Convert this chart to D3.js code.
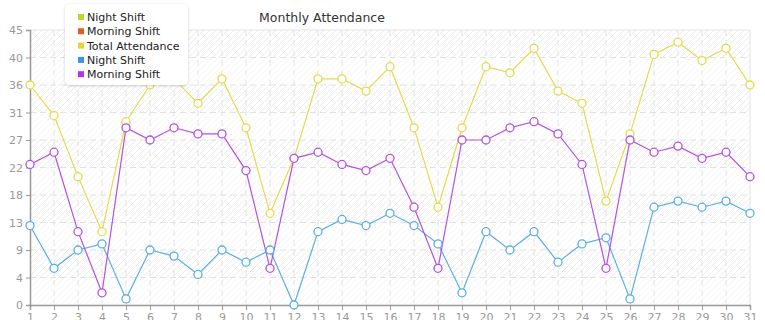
<!doctype html>
<html>
<head>
  <meta charset="utf-8">
  <title>Monthly Attendance</title>
  <script src="https://d3js.org/d3.v7.min.js"></script>
  <style>
    body { margin:0; background:#fff; font-family:"DejaVu Sans", sans-serif; }
    svg { display:block; }
    .tick text { fill:#999; font-size:11px; font-family:"DejaVu Sans", sans-serif; }
    .legend text { font-size:11px; fill:#222; }
  </style>
</head>
<body>
  <svg id="chart" width="765" height="320"></svg>
  <script>
    const days        = d3.range(1, 32);
    const nightShift  = [13,6,9,10,1,9,8,5,9,7,9,0,12,14,13,15,13,10,2,12,9,12,7,10,11,1,16,17,16,17,15];
    const morningShift= [23,25,12,2,29,27,29,28,28,22,6,24,25,23,22,24,16,6,27,27,29,30,28,23,6,27,25,26,24,25,21];
    const totalAtt    = [36,31,21,12,30,36,37,33,37,29,15,24,37,37,35,39,29,16,29,39,38,42,35,33,17,28,41,43,40,42,36];
    const yTicks      = [0,4.5,9,13.5,18,22.5,27,31.5,36,40.5,45];

    const legendItems = [
      { name:"Night Shift",      color:"#b6da2c" },
      { name:"Morning Shift",    color:"#df5c28" },
      { name:"Total Attendance", color:"#e2d43a" },
      { name:"Night Shift",      color:"#3997e6" },
      { name:"Morning Shift",    color:"#b433e4" }
    ];
    const series = [
      { values: totalAtt,     color:"#e6da4e" },
      { values: nightShift,   color:"#5aaee6" },
      { values: morningShift, color:"#b650e4" }
    ];

    const svg = d3.select("#chart");
    const pLeft = 30, pRight = 750, pTop = 30, pBottom = 305;

    const x = d3.scaleLinear().domain([1, 31]).range([pLeft, pRight]);
    const y = d3.scaleLinear().domain([0, 45]).range([pBottom, pTop]);

    // hatch pattern for the plot background
    const defs = svg.append("defs");
    const pat = defs.append("pattern")
      .attr("id","hatch").attr("patternUnits","userSpaceOnUse")
      .attr("width",6).attr("height",6);
    pat.append("rect").attr("width",6).attr("height",6).attr("fill","#fff");
    pat.append("path").attr("d","M0,6 L6,0 M-1,1 L1,-1 M5,7 L7,5")
      .attr("stroke","#ececec").attr("stroke-width",1);

    const shadow = defs.append("filter").attr("id","shadow")
      .attr("x","-20%").attr("y","-20%").attr("width","140%").attr("height","140%");
    shadow.append("feDropShadow").attr("dx",0).attr("dy",1).attr("stdDeviation",1.5)
      .attr("flood-color","#000").attr("flood-opacity",0.18);

    svg.append("rect")
      .attr("x",pLeft).attr("y",pTop)
      .attr("width",pRight-pLeft).attr("height",pBottom-pTop)
      .attr("fill","url(#hatch)");

    // alternating bands
    for (let i = 0; i < yTicks.length - 1; i += 2) {
      svg.append("rect")
        .attr("x",pLeft).attr("width",pRight-pLeft)
        .attr("y",y(yTicks[i+1])).attr("height",y(yTicks[i]) - y(yTicks[i+1]))
        .attr("fill","#fff").attr("opacity",0.55);
    }

    // plot border top / right
    svg.append("path")
      .attr("d",`M${pLeft},${pTop}H${pRight}V${pBottom}`)
      .attr("fill","none").attr("stroke","#e4e4e4");

    // grid
    svg.append("g").selectAll("line").data(days.slice(1, -1)).join("line")
      .attr("x1",d=>x(d)).attr("x2",d=>x(d))
      .attr("y1",pTop).attr("y2",pBottom)
      .attr("stroke","#e2e2e2").attr("stroke-dasharray","6,4");
    svg.append("g").selectAll("line").data(yTicks.slice(1, -1)).join("line")
      .attr("x1",pLeft).attr("x2",pRight)
      .attr("y1",d=>y(d)).attr("y2",d=>y(d))
      .attr("stroke","#e2e2e2").attr("stroke-dasharray","6,4");

    // axes
    const yAxis = svg.append("g")
      .attr("transform",`translate(${pLeft},0)`)
      .call(d3.axisLeft(y).tickValues(yTicks).tickSize(4).tickPadding(3)
        .tickFormat(d => Math.floor(d)));
    const xAxis = svg.append("g")
      .attr("transform",`translate(0,${pBottom})`)
      .call(d3.axisBottom(x).tickValues(days).tickSize(5).tickPadding(3)
        .tickFormat(d3.format("d")));
    [yAxis, xAxis].forEach(a => {
      a.select(".domain").attr("stroke","#999").attr("stroke-width",1.5);
      a.selectAll(".tick line").attr("stroke","#999");
    });

    // lines and markers
    const line = d3.line().x((d,i)=>x(days[i])).y(d=>y(d));
    series.forEach(s => {
      svg.append("path").datum(s.values)
        .attr("d",line).attr("fill","none")
        .attr("stroke",s.color).attr("stroke-width",1.2);
    });
    series.forEach(s => {
      svg.append("g").selectAll("circle").data(s.values).join("circle")
        .attr("cx",(d,i)=>x(days[i])).attr("cy",d=>y(d)).attr("r",4)
        .attr("fill","#fff").attr("stroke",s.color).attr("stroke-width",1.3);
    });

    // title
    svg.append("text")
      .attr("x",322).attr("y",22).attr("text-anchor","middle")
      .attr("font-size",12.5).attr("fill","#333")
      .text("Monthly Attendance");

    // legend
    const lg = svg.append("g").attr("class","legend");
    lg.append("rect")
      .attr("x",65).attr("y",4).attr("width",123).attr("height",81).attr("rx",5)
      .attr("fill","#fff").attr("filter","url(#shadow)");
    const rows = lg.selectAll("g.item").data(legendItems).join("g")
      .attr("class","item")
      .attr("transform",(d,i)=>`translate(78,${17 + i*14.3})`);
    rows.append("rect").attr("x",0).attr("y",-3).attr("width",6).attr("height",6)
      .attr("fill",d=>d.color);
    rows.append("text").attr("x",9).attr("y",4).text(d=>d.name);
  </script>
</body>
</html>
